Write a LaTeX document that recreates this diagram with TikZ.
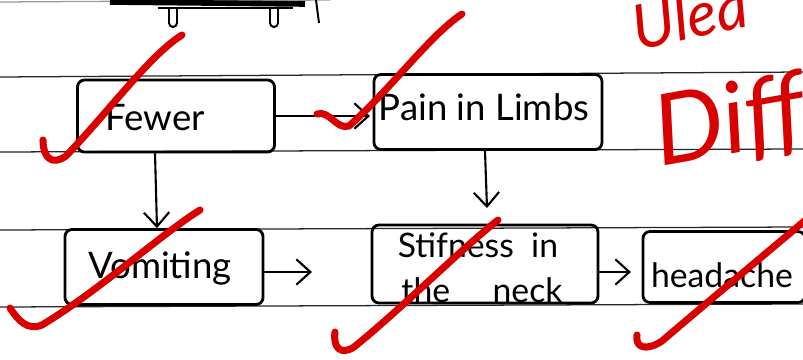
\documentclass[tikz,border=0pt]{standalone}
\usepackage{fontspec}
\setmainfont{Lato}
\usetikzlibrary{arrows.meta}
\tikzset{
  rule/.style={line width=0.9pt, black!85},
  box/.style={draw, line width=2pt, rounded corners=5pt, inner sep=0pt},
  lbl/.style={font=\fontsize{26}{30}\selectfont, inner sep=0pt},
  arr/.style={line width=1.5pt, -{Straight Barb[length=10pt,width=18pt]}},
  check/.style={draw=red!85!black, line width=5pt, line cap=round, line join=round},
  redtxt/.style={text=red!85!black, inner sep=0pt}
}
\begin{document}
\begin{tikzpicture}[x=0.025cm,y=-0.025cm]
\useasboundingbox (0,0) rectangle (803,360);
\clip (0,0) rectangle (803,360);
\fill[white] (0,0) rectangle (803,360);
% ruled lines
\draw[rule, black!40] (0,2) -- (330,0);
\draw[rule] (0,77) -- (803,72);
\draw[rule] (0,152) -- (803,149);
\draw[rule] (0,230) -- (803,227);
\draw[rule] (0,307) -- (803,304);
% top drawing fragment
\draw[line width=4pt] (110,2) -- (305,4);
\draw[line width=2pt] (158,8) -- (293,8);
\draw[line width=1.4pt] (169,9) -- (169,23) arc[start angle=180,end angle=0,radius=4] -- (177,9);
\draw[line width=1.4pt] (270,9) -- (270,23) arc[start angle=180,end angle=0,radius=4] -- (278,9);
\draw[line width=1.4pt] (316,0) -- (319,23);
% boxes
\node[box, minimum width=4.925cm, minimum height=1.8cm] (fewer) at (176,116) {};
\node[box, minimum width=5.7cm, minimum height=1.875cm] (pain) at (488,112) {};
\node[box, minimum width=4.95cm, minimum height=1.875cm] (vomit) at (164,267) {};
\node[box, minimum width=5.65cm, minimum height=1.95cm] (stiff) at (485,264) {};
\node[box, minimum width=4.05cm, minimum height=1.775cm] (head) at (724,267) {};
% labels
\node[lbl] (tfewer) at (155,118) {Fewer};
\node[lbl] (tpain) at (484,107) {Pain in Limbs};
\node[lbl] (tvomit) at (160,268) {Vomiting};
\node[lbl, font=\fontsize{24}{28}\selectfont] (tstiff1) at (478,245) {Stifness \ in};
\node[lbl, font=\fontsize{24}{28}\selectfont] (tstiff2) at (482,290) {the \quad neck};
\node[lbl, font=\fontsize{24}{28}\selectfont] (thead) at (722,275) {headache};
% connectors
\coordinate (p2s) at (487,208);
\coordinate (v2s) at (312,272);
\coordinate (s2h) at (631,272);
\draw[arr] (fewer.east) -- (fewer.east -| 370,0);
\draw[arr] (fewer.south -| 155,0) -- (vomit.north -| 157,0);
\draw[arr] (pain.south -| 485,0) -- (p2s);
\draw[arr] (vomit.east |- v2s) -- (v2s);
\draw[arr] (stiff.east |- s2h) -- (s2h);
% red check marks
\draw[check] (43,140) .. controls (43,158) and (52,166) .. (66,156) .. controls (110,110) and (150,55) .. (182,35);
\draw[check] (317,114) .. controls (330,110) and (336,130) .. (349,126) .. controls (390,90) and (430,35) .. (462,14);
\draw[check] (10,308) .. controls (18,320) and (27,331) .. (42,325) .. controls (100,290) and (160,235) .. (200,210);
\draw[check] (335,332) .. controls (333,347) and (340,356) .. (354,347) .. controls (400,310) and (460,250) .. (498,220);
\draw[check] (637,335) .. controls (635,347) and (645,352) .. (662,341) .. controls (710,300) and (770,250) .. (808,218);
% red annotations
\node[redtxt, font=\fontsize{44}{48}\selectfont\itshape, rotate=12] (ulea) at (690,16) {Ulea};
\node[redtxt, font=\fontsize{70}{74}\selectfont\itshape, rotate=10] (diff) at (730,124) {Diff};
\end{tikzpicture}
\end{document}
